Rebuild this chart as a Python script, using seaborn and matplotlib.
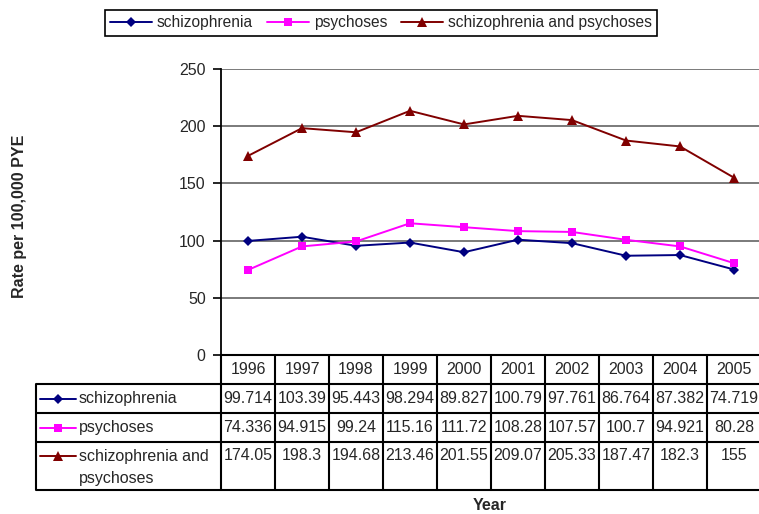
import matplotlib
matplotlib.use("Agg")
import matplotlib.pyplot as plt
from matplotlib.lines import Line2D
import seaborn as sns
import pandas as pd

years = ["1996", "1997", "1998", "1999", "2000", "2001", "2002", "2003", "2004", "2005"]
schizophrenia = [99.714, 103.39, 95.443, 98.294, 89.827, 100.79, 97.761, 86.764, 87.382, 74.719]
psychoses = [74.336, 94.915, 99.24, 115.16, 111.72, 108.28, 107.57, 100.7, 94.921, 80.28]
combined = [174.05, 198.3, 194.68, 213.46, 201.55, 209.07, 205.33, 187.47, 182.3, 155]
series_names = ["schizophrenia", "psychoses", "schizophrenia and psychoses"]
series_vals = [schizophrenia, psychoses, combined]
table_text = [
    ["99.714", "103.39", "95.443", "98.294", "89.827", "100.79", "97.761", "86.764", "87.382", "74.719"],
    ["74.336", "94.915", "99.24", "115.16", "111.72", "108.28", "107.57", "100.7", "94.921", "80.28"],
    ["174.05", "198.3", "194.68", "213.46", "201.55", "209.07", "205.33", "187.47", "182.3", "155"],
]
colors = {"schizophrenia": "#000080", "psychoses": "#FF00FF", "schizophrenia and psychoses": "#800000"}
markers = {"schizophrenia": "D", "psychoses": "s", "schizophrenia and psychoses": "^"}
msize = {"schizophrenia": 5.5, "psychoses": 6, "schizophrenia and psychoses": 7.5}

sns.set_style("white")
plt.rcParams["font.family"] = ["Liberation Sans", "DejaVu Sans"]

W, H = 759, 514
fig = plt.figure(figsize=(W / 100, H / 100), dpi=100)

L, R, T, B = 221, 761, 69, 355
ax = fig.add_axes([L / W, 1 - B / H, (R - L) / W, (B - T) / H])

rows = []
for name, vals in zip(series_names, series_vals):
    for i, v in enumerate(vals):
        rows.append({"idx": i, "rate": v, "series": name})
df = pd.DataFrame(rows)

for name in series_names:
    sub = df[df["series"] == name]
    sns.lineplot(data=sub, x="idx", y="rate", color=colors[name], marker=markers[name],
                 markersize=msize[name], markeredgewidth=0, linewidth=1.4, ax=ax, legend=False)

ax.set_xlim(-0.5, len(years) - 0.5)
ax.set_ylim(0, 250)
ax.set_yticks([0, 50, 100, 150, 200, 250])
ax.set_xticks([])
ax.set_xlabel("")
ax.set_ylabel("")
ax.grid(axis="y", color="#707070", linewidth=1.3)
ax.set_axisbelow(True)
for s in ["top", "right"]:
    ax.spines[s].set_visible(False)
ax.spines["left"].set_color("black")
ax.spines["left"].set_linewidth(1.3)
ax.spines["bottom"].set_color("black")
ax.spines["bottom"].set_linewidth(1.5)
ax.tick_params(axis="y", direction="out", length=6, width=1.2, color="black",
               labelsize=11.5, pad=5, left=True)

fig.text(20 / W, 1 - 216 / H, "Rate per 100,000 PYE", rotation=90, fontsize=11.5,
         fontweight="bold", ha="center", va="center")
fig.text(490 / W, 1 - 505 / H, "Year", fontsize=11.5, fontweight="bold",
         ha="center", va="center")

# data table
ov = fig.add_axes([0, 0, 1, 1])
ov.set_xlim(0, W)
ov.set_ylim(H, 0)
ov.axis("off")
colw = (R - L) / len(years)
TL = 36
row_y = [384, 413, 442, 490]
lw = 1.5
for y in row_y:
    ov.plot([TL, R], [y, y], color="black", lw=lw, solid_capstyle="butt")
ov.plot([TL, TL], [row_y[0], row_y[-1]], color="black", lw=lw)
for k in range(len(years) + 1):
    x = L + colw * k
    ov.plot([x, x], [B, row_y[-1]], color="black", lw=lw)
for k, yr in enumerate(years):
    ov.text(L + colw * (k + 0.5), 369, yr, ha="center", va="center", fontsize=11.5)
text_y = [398.5, 427.5, 456]
for r, name in enumerate(series_names):
    for k in range(len(years)):
        ov.text(L + colw * (k + 0.5), text_y[r], table_text[r][k], ha="center",
                va="center", fontsize=11.5)
    ov.plot([40, 76], [text_y[r], text_y[r]], color=colors[name], lw=1.4)
    ov.plot([58], [text_y[r]], marker=markers[name], color=colors[name],
            markersize=msize[name], markeredgewidth=0)
ov.text(79, text_y[0], "schizophrenia", ha="left", va="center", fontsize=11.5)
ov.text(79, text_y[1], "psychoses", ha="left", va="center", fontsize=11.5)
ov.text(79, text_y[2], "schizophrenia and", ha="left", va="center", fontsize=11.5)
ov.text(79, 478, "psychoses", ha="left", va="center", fontsize=11.5)

handles = [Line2D([0], [0], color=colors[n], marker=markers[n], markersize=msize[n],
                  markeredgewidth=0, lw=1.4) for n in series_names]
leg = fig.legend(handles, series_names, loc="center", bbox_to_anchor=(381 / W, 1 - 23 / H),
                 ncol=3, frameon=True, fancybox=False, edgecolor="black", framealpha=1,
                 handlelength=2.7, columnspacing=0.9, handletextpad=0.3, fontsize=11.2,
                 borderpad=0.35)
leg.get_frame().set_linewidth(1.2)

fig.savefig("out.png", dpi=100)
